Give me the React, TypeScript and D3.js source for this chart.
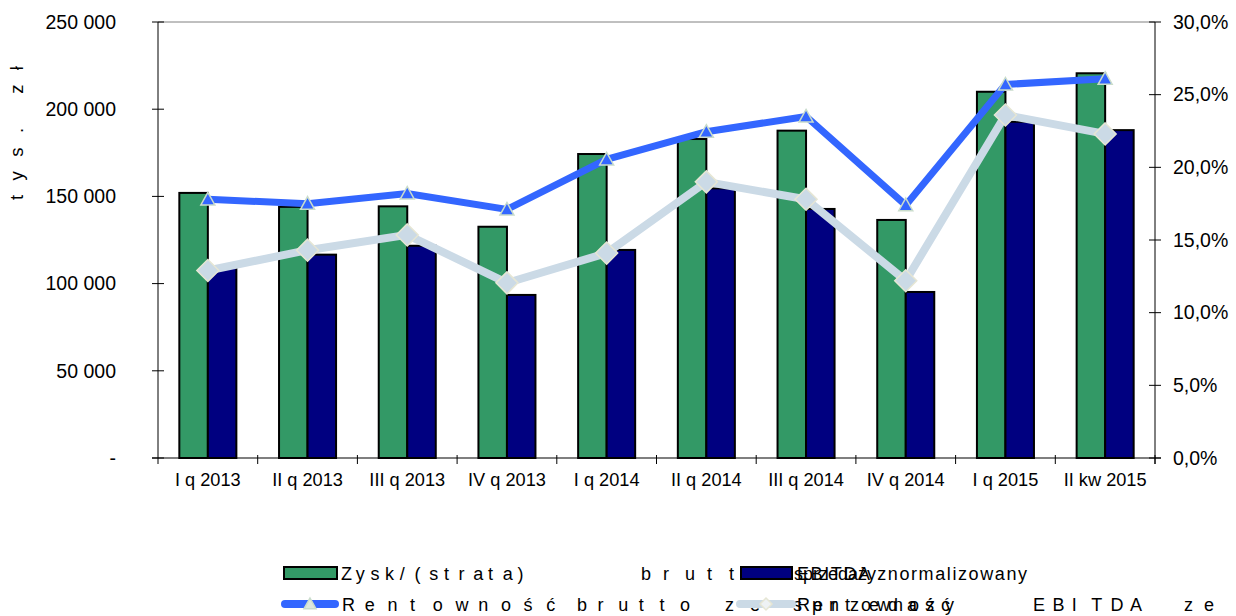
import React from "react";
import * as d3 from "d3";

const categories = ["I q 2013", "II q 2013", "III q 2013", "IV q 2013", "I q 2014", "II q 2014", "III q 2014", "IV q 2014", "I q 2015", "II kw 2015"];
const zyskBrutto = [152000, 144000, 144300, 132600, 174300, 182900, 187700, 136500, 210000, 220600];
const ebitdaZnorm = [109500, 116600, 121700, 93500, 119300, 154600, 142800, 95200, 192800, 188000];
const rentBrutto = [17.8, 17.5, 18.2, 17.1, 20.55, 22.45, 23.5, 17.4, 25.7, 26.1];
const rentEbitda = [12.9, 14.3, 15.35, 12.05, 14.1, 19.0, 17.8, 12.2, 23.6, 22.3];
const leftTicks = [0, 50000, 100000, 150000, 200000, 250000];
const rightTicks = [0, 5, 10, 15, 20, 25, 30];

const W = 1236, H = 616;
const L = 158, R = 1155, T = 22, B = 458;
const FONT = "'Liberation Sans', Arial, sans-serif";
const GREEN = "#339966", NAVY = "#000080", LBLUE = "#3366FF", LGREY = "#CBDAE6";

function Spaced({ text, x0, y, pitch }: { text: string; x0: number; y: number; pitch: number }) {
  return (
    <text y={y}>
      {Array.from(text).map((ch, i) => (
        <tspan key={i} x={x0 + i * pitch}>{ch}</tspan>
      ))}
    </text>
  );
}

export default function App() {
  const x = d3.scaleBand<string>().domain(categories).range([L, R]).paddingInner(0).paddingOuter(0);
  const yL = d3.scaleLinear().domain([0, 250000]).range([B, T]);
  const yR = d3.scaleLinear().domain([0, 30]).range([B, T]);
  const bw = x.bandwidth();
  const barW = bw * 0.286;
  const cx = (c: string) => (x(c) as number) + bw / 2;

  const line = d3.line<number>().x((_, i) => cx(categories[i])).y((v) => yR(v));
  const fmtL = (v: number) => (v === 0 ? "-" : d3.format(",")(v).replace(/,/g, " "));
  const fmtR = (v: number) => v.toFixed(1).replace(".", ",") + "%";

  const tri = (px: number, py: number, s = 7) => `M${px},${py - s}L${px + s},${py + s * 0.8}L${px - s},${py + s * 0.8}Z`;
  const dia = (px: number, py: number, s = 11) => `M${px},${py - s}L${px + s},${py}L${px},${py + s}L${px - s},${py}Z`;

  return (
    <svg width={W} height={H} style={{ position: "absolute", left: 0, top: 0, background: "#fff" }} fontFamily={FONT}>
      <line x1={L} x2={R} y1={T} y2={T} stroke="#808080" strokeWidth={1} />
      {categories.map((c, i) => (
        <g key={c}>
          <rect x={cx(c) - barW} y={yL(zyskBrutto[i])} width={barW} height={B - yL(zyskBrutto[i])} fill={GREEN} stroke="#000" strokeWidth={2} />
          <rect x={cx(c)} y={yL(ebitdaZnorm[i])} width={barW} height={B - yL(ebitdaZnorm[i])} fill={NAVY} stroke="#000" strokeWidth={2} />
        </g>
      ))}
      <line x1={L} x2={L} y1={T} y2={B + 6} stroke="#000" strokeWidth={1} />
      <line x1={R} x2={R} y1={T} y2={B + 6} stroke="#000" strokeWidth={1} />
      <line x1={L - 6} x2={R + 6} y1={B} y2={B} stroke="#000" strokeWidth={1.2} />
      {leftTicks.map((t) => (
        <g key={"l" + t}>
          <line x1={L - 6} x2={L + 6} y1={yL(t)} y2={yL(t)} stroke="#000" />
          <text x={116} y={yL(t)} dy="0.35em" textAnchor="end" fontSize={19.5} fill="#000">{fmtL(t)}</text>
        </g>
      ))}
      {rightTicks.map((t) => (
        <g key={"r" + t}>
          <line x1={R - 6} x2={R + 6} y1={yR(t)} y2={yR(t)} stroke="#000" />
          <text x={1173} y={yR(t)} dy="0.35em" textAnchor="start" fontSize={19.5} fill="#000">{fmtR(t)}</text>
        </g>
      ))}
      {categories.map((c) => (
        <g key={"x" + c}>
          <line x1={(x(c) as number) + bw} x2={(x(c) as number) + bw} y1={B - 3} y2={B + 6} stroke="#000" />
          <text x={cx(c)} y={B + 22} dy="0.35em" textAnchor="middle" fontSize={18.2} fill="#000">{c}</text>
        </g>
      ))}
      <text transform="translate(23,200) rotate(-90)" textAnchor="start" fontSize={18.5} textLength={134} lengthAdjust="spacing" fill="#000">tys. zł</text>
      <path d={line(rentBrutto) || ""} fill="none" stroke={LBLUE} strokeWidth={7} strokeLinejoin="miter" />
      <path d={line(rentEbitda) || ""} fill="none" stroke={LGREY} strokeWidth={8} strokeLinejoin="miter" />
      {rentBrutto.map((v, i) => (
        <path key={"t" + i} d={tri(cx(categories[i]), yR(v))} fill={LBLUE} stroke="#C9DCCB" strokeWidth={1.5} />
      ))}
      {rentEbitda.map((v, i) => (
        <path key={"d" + i} d={dia(cx(categories[i]), yR(v))} fill={LGREY} stroke="#E6E6D4" strokeWidth={1.5} />
      ))}
      <g fontSize={18} fill="#000">
        <Spaced text="Zysk/(strata)" x0={341} y={580} pitch={14.7} />
        <Spaced text="brutto" x0={641} y={580} pitch={22} />
        <text x={770} y={580}>ze sprzedaży</text>
        <rect x={284} y={567} width={53} height={12} fill={GREEN} stroke="#000" strokeWidth={2} />
        <rect x={741} y={567} width={51} height={12} fill={NAVY} stroke="#000" strokeWidth={2} />
        <text x={797} y={580} textLength={230} lengthAdjust="spacing">EBITDA znormalizowany</text>
        <Spaced text="Rentowność" x0={342} y={611} pitch={22.7} />
        <Spaced text="brutto" x0={577} y={611} pitch={20.6} />
        <Spaced text="ze" x0={725} y={611} pitch={25} />
        <Spaced text="sprzedaży" x0={793} y={611} pitch={19} />
        <line x1={285} x2={335} y1={604} y2={604} stroke={LBLUE} strokeWidth={8} strokeLinecap="round" />
        <path d={tri(310, 604, 6)} fill="#DDE8DD" stroke="#C9DCCB" strokeWidth={1.5} />
        <line x1={740} x2={792} y1={604} y2={604} stroke={LGREY} strokeWidth={8} strokeLinecap="round" />
        <path d={dia(766, 604, 6)} fill="#EEF2F4" stroke="#E6E6D4" strokeWidth={1.5} />
        <Spaced text="Rentowność" x0={797} y={611} pitch={16} />
        <Spaced text="EBITDA" x0={1033} y={611} pitch={19.4} />
        <Spaced text="ze" x0={1184} y={611} pitch={20} />
      </g>
    </svg>
  );
}
